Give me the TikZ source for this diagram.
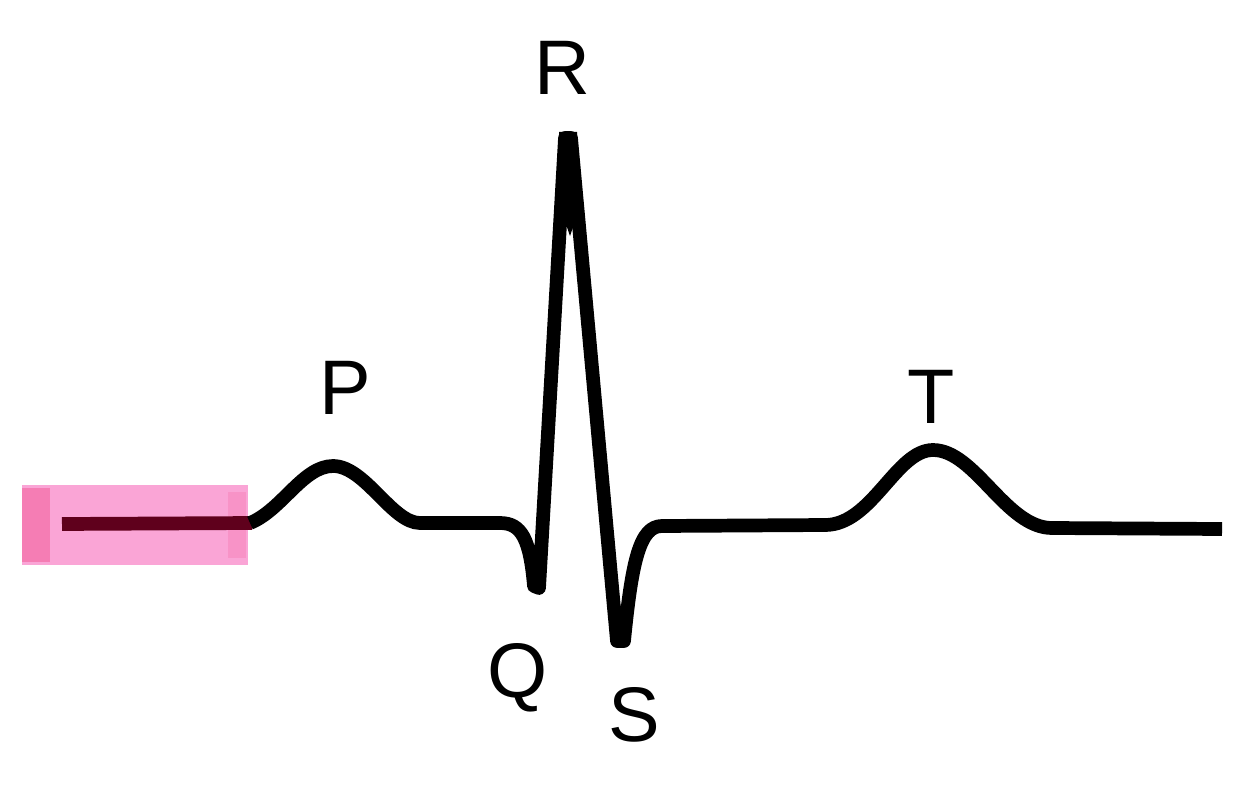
\documentclass[tikz,border=0pt]{standalone}
\usepackage{fontspec}
\setmainfont{Liberation Sans}
\definecolor{hlpink}{RGB}{250,165,214}
\definecolor{hledge}{RGB}{245,125,180}
\definecolor{darkline}{RGB}{95,0,28}
\tikzset{
  wave/.style={line width=3.9pt, black, line join=round, line cap=butt},
  lbl/.style={font=\fontsize{22}{26}\selectfont, inner sep=0pt, anchor=center},
}
\begin{document}
\begin{tikzpicture}[x=0.01cm, y=-0.01cm]
\useasboundingbox (0,0) rectangle (1234,794);
% highlight
\fill[hlpink] (22,485) rectangle (248,565);
\fill[hledge] (22,488) rectangle (50,562);
\fill[hledge!45!hlpink] (228,492) rectangle (246,558);
\draw[line width=3.9pt, darkline] (62,524) -- (252,523);
% waveform
\draw[wave] (250,523) .. controls (282,510) and (303,466) .. (333,466)
  .. controls (365,466) and (392,523) .. (420,523) -- (500,523)
  .. controls (522,523) and (530,540) .. (534,586) -- (539,588)
  -- (565,138) -- (571,138) -- (617,641) -- (624,641)
  .. controls (632,560) and (640,526) .. (662,526) -- (825,525)
  .. controls (872,525) and (896,450) .. (933,450)
  .. controls (975,450) and (1006,528) .. (1052,528) -- (1222,529);
% filled apex of R
\fill (559,132) -- (577,132) -- (579,210) -- (570,236) -- (561,210) -- cycle;
% labels
\node[lbl] (R) at (562,68) {R};
\node[lbl] (P) at (345,388) {P};
\node[lbl] (T) at (931,397) {T};
\node[lbl] (Q) at (518,678) {Q};
\node[lbl] (S) at (634,715) {S};
\end{tikzpicture}
\end{document}
